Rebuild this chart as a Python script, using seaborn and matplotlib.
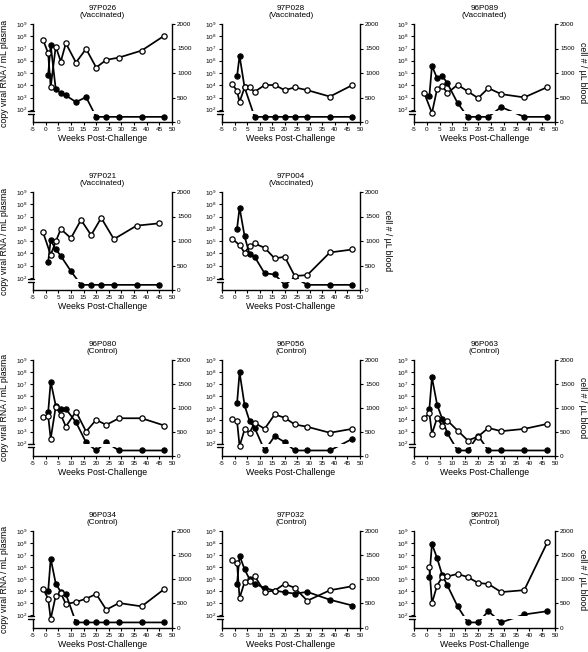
import matplotlib
matplotlib.use("Agg")
import matplotlib.pyplot as plt
import matplotlib.transforms as mtrans
from matplotlib.patches import Rectangle
import numpy as np
import pandas as pd
import seaborn as sns

# ---------------- data ----------------
UND = 1.42  # log10 level at which "undetectable" viral RNA is plotted
U = None

# 97P026 (Vaccinated)
p026_vl_wk = [1, 2, 4, 6, 8, 12, 16, 20, 24, 29, 38, 47]
p026_vl_log = [4.85, 7.29, 3.68, 3.36, 3.17, 2.63, 3.03, U, U, U, U, U]
p026_cd_wk = [-1, 1, 2, 4, 6, 8, 12, 16, 20, 24, 29, 38, 47]
p026_cd = [1675, 1403, 712, 1539, 1234, 1607, 1214, 1492, 1112, 1268, 1315, 1458, 1763]

# 97P028 (Vaccinated)
p028_vl_wk = [1, 2, 4, 8, 12, 16, 20, 24, 29, 38, 47]
p028_vl_log = [4.74, 6.40, 3.82, U, U, U, U, U, U, U, U]
p028_cd_wk = [-1, 1, 2, 4, 6, 8, 12, 16, 20, 24, 29, 38, 47]
p028_cd = [775, 637, 408, 706, 706, 616, 754, 754, 650, 706, 650, 519, 754]

# 96P089 (Vaccinated)
p089_vl_wk = [1, 2, 4, 6, 8, 12, 16, 20, 24, 29, 38, 47]
p089_vl_log = [3.14, 5.58, 4.58, 4.77, 4.17, 2.55, U, U, U, 2.22, U, U]
p089_cd_wk = [-1, 2, 4, 6, 8, 12, 16, 20, 24, 29, 38, 47]
p089_cd = [590, 183, 671, 739, 590, 759, 624, 488, 692, 569, 502, 712]

# 97P021 (Vaccinated)
p021v_vl_wk = [1, 2, 4, 6, 10, 14, 18, 22, 27, 36, 45]
p021v_vl_log = [3.28, 5.07, 4.33, 3.78, 2.54, U, U, U, U, U, U]
p021v_cd_wk = [-1, 2, 4, 6, 10, 14, 18, 22, 27, 36, 45]
p021v_cd = [1175, 715, 990, 1244, 1058, 1430, 1120, 1471, 1038, 1313, 1361]

# 97P004 (Vaccinated)
p004_vl_wk = [1, 2, 4, 6, 8, 12, 16, 20, 24, 29, 38, 47]
p004_vl_log = [6.02, 7.73, 5.39, 3.90, 3.71, 2.36, 2.27, U, 2.02, U, U, U]
p004_cd_wk = [-1, 2, 4, 6, 8, 12, 16, 20, 24, 29, 38, 47]
p004_cd = [1051, 915, 759, 895, 949, 861, 644, 678, 285, 305, 766, 827]

# 96P080 (Control)
p080_vl_wk = [1, 2, 4, 6, 8, 12, 16, 20, 24, 29, 38, 47]
p080_vl_log = [4.62, 7.19, 5.18, 4.90, 4.90, 3.79, 2.10, U, 2.10, U, U, U]
p080_cd_wk = [-1, 1, 2, 4, 6, 8, 12, 16, 20, 24, 29, 38, 47]
p080_cd = [801, 836, 348, 1024, 850, 606, 920, 502, 746, 641, 780, 780, 627]

# 96P056 (Control)
p056_vl_wk = [1, 2, 4, 6, 8, 12, 16, 20, 24, 29, 38, 47]
p056_vl_log = [5.36, 7.99, 5.20, 3.88, 3.32, U, 2.62, 2.12, U, U, U, 2.40]
p056_cd_wk = [-1, 1, 2, 4, 6, 8, 12, 16, 20, 24, 29, 38, 47]
p056_cd = [769, 720, 196, 545, 476, 685, 559, 860, 790, 650, 601, 476, 559]

# 96P063 (Control)
p063_vl_wk = [1, 2, 4, 6, 8, 12, 16, 20, 24, 29, 38, 47]
p063_vl_log = [4.90, 7.55, 5.27, 4.07, 2.87, U, U, 2.67, U, U, U, U]
p063_cd_wk = [-1, 1, 2, 4, 6, 8, 12, 16, 20, 24, 29, 38, 47]
p063_cd = [780, 885, 453, 787, 627, 732, 523, 314, 397, 578, 509, 557, 662]

# 96P034 (Control)
p034_vl_wk = [1, 2, 4, 6, 8, 12, 16, 20, 24, 29, 38, 47]
p034_vl_log = [4.00, 6.72, 4.64, 3.94, 3.78, U, U, U, U, U, U, U]
p034_cd_wk = [-1, 1, 2, 4, 6, 8, 12, 16, 20, 24, 29, 38, 47]
p034_cd = [799, 597, 174, 660, 715, 486, 528, 597, 694, 368, 507, 438, 799]

# 97P032 (Control)
p032_vl_wk = [1, 2, 4, 6, 8, 12, 16, 20, 24, 29, 38, 47]
p032_vl_log = [4.62, 6.95, 5.83, 4.99, 4.62, 4.28, 4.06, 3.92, 3.81, 3.95, 3.30, 2.82]
p032_cd_wk = [-1, 1, 2, 4, 6, 8, 12, 16, 20, 24, 29, 38, 47]
p032_cd = [1396, 1333, 610, 940, 961, 1067, 737, 765, 905, 821, 554, 772, 856]

# 96P021 (Control)
p021c_vl_wk = [1, 2, 4, 6, 8, 12, 16, 20, 24, 29, 38, 47]
p021c_vl_log = [5.18, 7.92, 6.76, 5.36, 4.50, 2.75, U, U, 2.35, U, 2.08, 2.35]
p021c_cd_wk = [1, 2, 4, 6, 8, 12, 16, 20, 24, 29, 38, 47]
p021c_cd = [1246, 505, 869, 1044, 1057, 1111, 1044, 923, 902, 734, 774, 1764]

titles = ["97P026\n(Vaccinated)", "97P028\n(Vaccinated)", "96P089\n(Vaccinated)",
          "97P021\n(Vaccinated)", "97P004\n(Vaccinated)",
          "96P080\n(Control)", "96P056\n(Control)", "96P063\n(Control)",
          "96P034\n(Control)", "97P032\n(Control)", "96P021\n(Control)"]

x_ticks = [-5, 0, 5, 10, 15, 20, 25, 30, 35, 40, 45, 50]
x_tick_labels = ["-5", "0", "5", "10", "15", "20", "25", "30", "35", "40", "45", "50"]
left_exps = [2, 3, 4, 5, 6, 7, 8, 9]
right_ticks = [0, 500, 1000, 1500, 2000]

panels = [
    (p026_vl_wk, p026_vl_log, p026_cd_wk, p026_cd),
    (p028_vl_wk, p028_vl_log, p028_cd_wk, p028_cd),
    (p089_vl_wk, p089_vl_log, p089_cd_wk, p089_cd),
    (p021v_vl_wk, p021v_vl_log, p021v_cd_wk, p021v_cd),
    (p004_vl_wk, p004_vl_log, p004_cd_wk, p004_cd),
    (p080_vl_wk, p080_vl_log, p080_cd_wk, p080_cd),
    (p056_vl_wk, p056_vl_log, p056_cd_wk, p056_cd),
    (p063_vl_wk, p063_vl_log, p063_cd_wk, p063_cd),
    (p034_vl_wk, p034_vl_log, p034_cd_wk, p034_cd),
    (p032_vl_wk, p032_vl_log, p032_cd_wk, p032_cd),
    (p021c_vl_wk, p021c_vl_log, p021c_cd_wk, p021c_cd),
]
# (row, col) of each panel; row 2 has only two panels
grid_pos = [(0, 0), (0, 1), (0, 2), (1, 0), (1, 1), (2, 0), (2, 1), (2, 2), (3, 0), (3, 1), (3, 2)]
right_label = {2, 4, 7, 10}

# ---------------- style ----------------
sns.set_theme(style="ticks")
plt.rcParams["font.family"] = ["Liberation Sans", "DejaVu Sans"]
plt.rcParams["mathtext.fontset"] = "custom"
plt.rcParams["mathtext.rm"] = "Liberation Sans"
plt.rcParams["mathtext.it"] = "Liberation Sans"
plt.rcParams["mathtext.default"] = "regular"
plt.rcParams["axes.unicode_minus"] = False

W, H = 588, 652
fig = plt.figure(figsize=(W / 100, H / 100), dpi=100)
fig.patch.set_facecolor("white")

col_x = [(33, 172), (222, 360), (414, 555)]
row_y = [(24, 122), (192, 290), (360, 455.5), (531, 627.5)]

TICK_FS = 4.6
LAB_FS = 6.3
TITLE_FS = 5.9
LW = 1.25
MS = 3.8
SPINE_LW = 1.0
BAND_LO, BAND_HI = 1.68, 1.93

for i, (vl_wk, vl_log, cd_wk, cd) in enumerate(panels):
    r, c = grid_pos[i]
    x0, x1 = col_x[c]
    y0, y1 = row_y[r]
    ax = fig.add_axes([x0 / W, 1 - y1 / H, (x1 - x0) / W, (y1 - y0) / H])
    ax.set_facecolor("white")

    vl = [10 ** (UND if v is None else v) for v in vl_log]
    df_vl = pd.DataFrame({"week": vl_wk, "copies": vl})
    df_cd = pd.DataFrame({"week": cd_wk, "cells": cd})

    ax.set_yscale("log")
    sns.lineplot(data=df_vl, x="week", y="copies", ax=ax, color="black", lw=LW,
                 marker="o", markersize=MS, markerfacecolor="black",
                 markeredgecolor="black", markeredgewidth=0.8,
                 estimator=None, sort=False, legend=False)
    ax.set_ylim(10, 1e9)
    ax.set_xlim(-5, 50)
    ax.set_yticks([10.0 ** e for e in left_exps])
    ax.set_yticklabels([f"$10^{{{e}}}$" for e in left_exps])
    ax.yaxis.set_minor_locator(matplotlib.ticker.NullLocator())
    ax.set_xticks(x_ticks)
    ax.set_xticklabels(x_tick_labels)
    ax.tick_params(axis="both", which="major", labelsize=TICK_FS, length=2.5,
                   width=0.8, pad=1.2, color="black", labelcolor="black", direction="out")
    for s in ["top", "right"]:
        ax.spines[s].set_visible(False)
    for s in ["left", "bottom"]:
        ax.spines[s].set_linewidth(SPINE_LW)
        ax.spines[s].set_color("black")

    # axis break: white band hiding the viral-load trace and the spine
    trans = mtrans.blended_transform_factory(ax.transAxes, ax.transData)
    band = Rectangle((-0.03, 10 ** BAND_LO), 1.02, 10 ** BAND_HI - 10 ** BAND_LO,
                     transform=trans, facecolor="white", edgecolor="none",
                     zorder=2.6, clip_on=False)
    ax.add_artist(band)
    for yb in (BAND_LO, BAND_HI):
        ax.plot([-0.035, 0.008], [10 ** yb, 10 ** yb], transform=trans,
                color="black", lw=1.0, clip_on=False, zorder=3)

    ax.set_xlabel("Weeks Post-Challenge", fontsize=LAB_FS, labelpad=1.5, color="black")
    if c == 0:
        ax.set_ylabel("copy viral RNA / mL plasma", fontsize=LAB_FS, labelpad=5, color="black")
    else:
        ax.set_ylabel("")
    ax.set_title(titles[i], fontsize=TITLE_FS, pad=5, linespacing=1.05, color="black")

    ax2 = ax.twinx()
    sns.lineplot(data=df_cd, x="week", y="cells", ax=ax2, color="black", lw=LW,
                 marker="o", markersize=MS, markerfacecolor="white",
                 markeredgecolor="black", markeredgewidth=0.9,
                 estimator=None, sort=False, legend=False)
    ax2.set_ylim(0, 2000)
    ax2.set_xlim(-5, 50)
    ax2.set_yticks(right_ticks)
    ax2.set_yticklabels([str(t) for t in right_ticks])
    ax2.tick_params(axis="y", labelsize=TICK_FS, length=2.5, width=0.8, pad=1.2,
                    color="black", labelcolor="black", direction="out")
    for s in ["top", "left", "bottom"]:
        ax2.spines[s].set_visible(False)
    ax2.spines["right"].set_linewidth(SPINE_LW)
    ax2.spines["right"].set_color("black")
    if i in right_label:
        ax2.set_ylabel("cell # / \u00b5L blood", fontsize=LAB_FS, rotation=270,
                       va="bottom", labelpad=2.5, color="black")
    else:
        ax2.set_ylabel("")
    ax2.set_xlabel("")

fig.savefig("out.png", dpi=100, facecolor="white")
